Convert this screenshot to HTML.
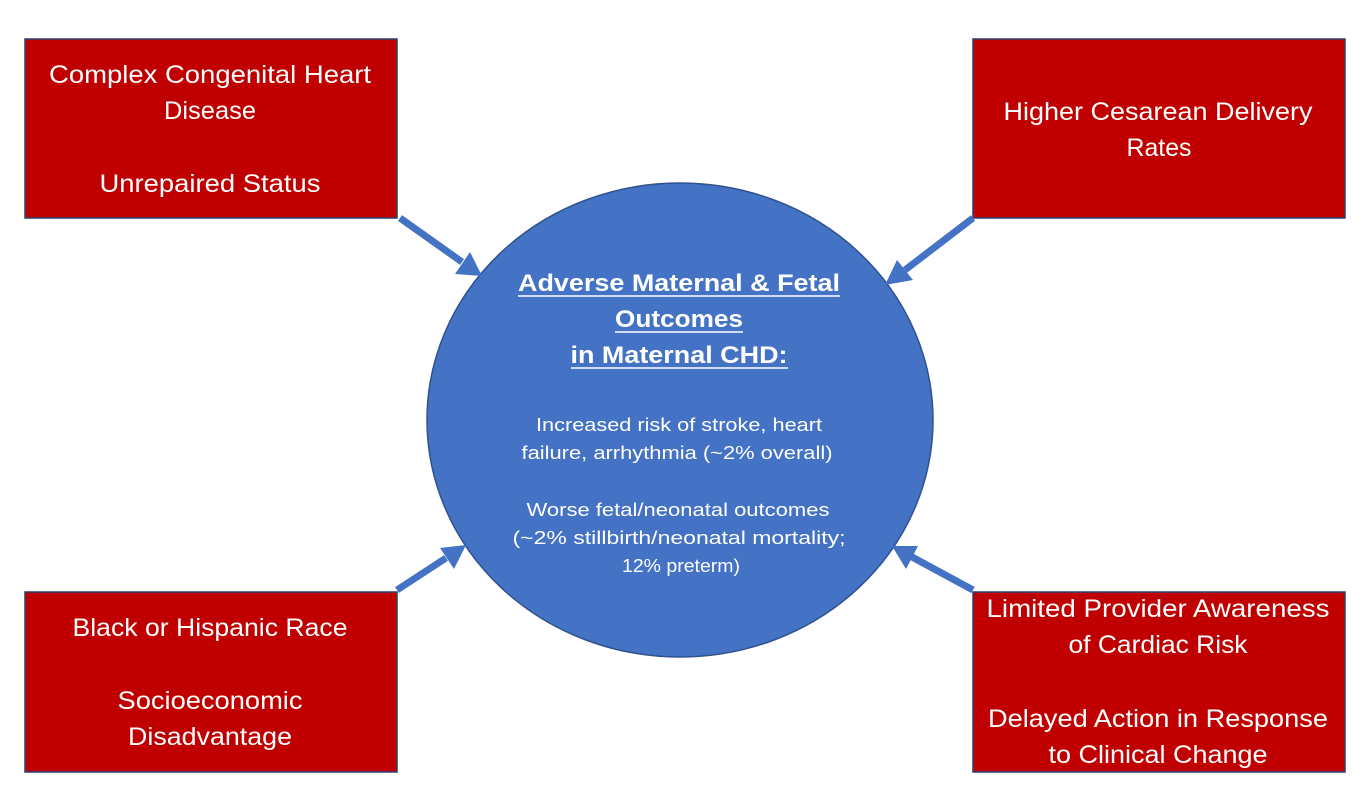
<!DOCTYPE html>
<html><head><meta charset="utf-8"><style>
html,body{margin:0;padding:0;background:#fff;}
svg{display:block;}
text{font-family:"Liberation Sans",sans-serif;fill:#fff;}
</style></head><body>
<svg width="1369" height="794" viewBox="0 0 1369 794" xmlns="http://www.w3.org/2000/svg">
<g fill="#C00000" stroke="#2F3F6F" stroke-width="1.5">
<rect x="25" y="39" width="372" height="179"/>
<rect x="973" y="39" width="372" height="179"/>
<rect x="25" y="592" width="372" height="180"/>
<rect x="973" y="592" width="372" height="180"/>
</g>
<ellipse cx="680" cy="420" rx="253" ry="237" fill="#4472C4" stroke="#2F528F" stroke-width="1.5"/>
<g stroke="#4472C4" stroke-width="7" fill="#4472C4">
<line x1="400" y1="218" x2="462" y2="262"/>
<polygon points="482,276 455,274 470,252" stroke="none"/>
<line x1="973" y1="218" x2="905" y2="270"/>
<polygon points="885,285 897,260 913,280" stroke="none"/>
<line x1="397" y1="590" x2="446" y2="558"/>
<polygon points="466,545 454,569 440,548" stroke="none"/>
<line x1="973" y1="590" x2="912" y2="557"/>
<polygon points="892,546 918,546 906,569" stroke="none"/>
</g>
<g font-size="25" text-anchor="middle" lengthAdjust="spacingAndGlyphs">
<text x="210" y="83" textLength="322" lengthAdjust="spacingAndGlyphs">Complex Congenital Heart</text>
<text x="210" y="119" textLength="92" lengthAdjust="spacingAndGlyphs">Disease</text>
<text x="210" y="192" textLength="221" lengthAdjust="spacingAndGlyphs">Unrepaired Status</text>
<text x="1158" y="120" textLength="309" lengthAdjust="spacingAndGlyphs">Higher Cesarean Delivery</text>
<text x="1159" y="156" textLength="65" lengthAdjust="spacingAndGlyphs">Rates</text>
<text x="210" y="636" textLength="275" lengthAdjust="spacingAndGlyphs">Black or Hispanic Race</text>
<text x="210" y="709" textLength="185" lengthAdjust="spacingAndGlyphs">Socioeconomic</text>
<text x="210" y="745" textLength="164" lengthAdjust="spacingAndGlyphs">Disadvantage</text>
<text x="1158" y="617" textLength="343" lengthAdjust="spacingAndGlyphs">Limited Provider Awareness</text>
<text x="1158" y="653" textLength="179" lengthAdjust="spacingAndGlyphs">of Cardiac Risk</text>
<text x="1158" y="727" textLength="340" lengthAdjust="spacingAndGlyphs">Delayed Action in Response</text>
<text x="1158" y="763" textLength="219" lengthAdjust="spacingAndGlyphs">to Clinical Change</text>
</g>
<g font-size="24" font-weight="bold" text-anchor="middle">
<text x="679" y="291" textLength="322" lengthAdjust="spacingAndGlyphs">Adverse Maternal &amp; Fetal</text>
<text x="679" y="327" textLength="128" lengthAdjust="spacingAndGlyphs">Outcomes</text>
<text x="679" y="363" textLength="217" lengthAdjust="spacingAndGlyphs">in Maternal CHD:</text>
</g>
<g stroke="#fff" stroke-width="1.6">
<line x1="518" y1="296" x2="840" y2="296"/>
<line x1="615" y1="332" x2="743" y2="332"/>
<line x1="571" y1="368" x2="788" y2="368"/>
</g>
<g font-size="18.5" text-anchor="middle">
<text x="679" y="431" textLength="286" lengthAdjust="spacingAndGlyphs">Increased risk of stroke, heart</text>
<text x="677" y="459" textLength="311" lengthAdjust="spacingAndGlyphs">failure, arrhythmia (~2% overall)</text>
<text x="678" y="516" textLength="303" lengthAdjust="spacingAndGlyphs">Worse fetal/neonatal outcomes</text>
<text x="679" y="544" textLength="333" lengthAdjust="spacingAndGlyphs">(~2% stillbirth/neonatal mortality;</text>
<text x="681" y="572" textLength="118" lengthAdjust="spacingAndGlyphs">12% preterm)</text>
</g>
</svg>
</body></html>
